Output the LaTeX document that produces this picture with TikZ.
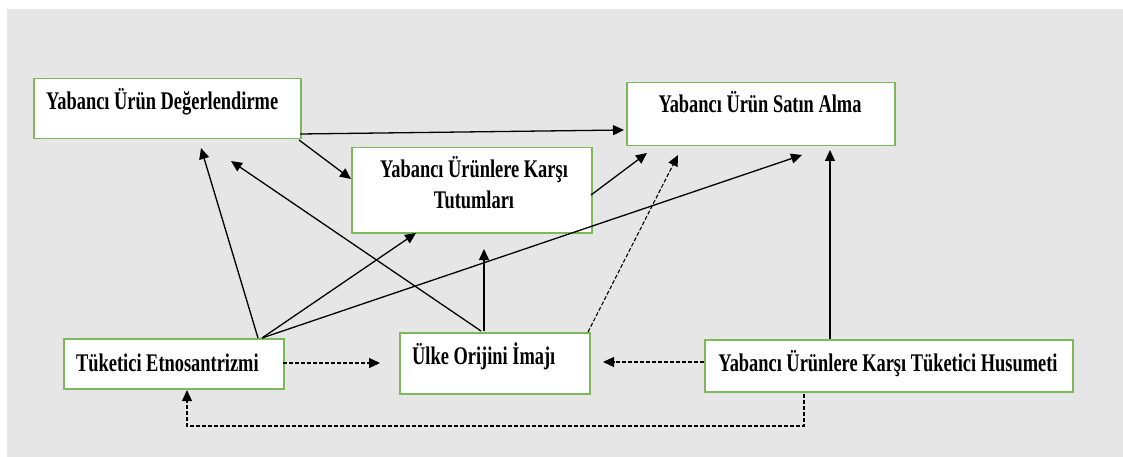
\documentclass[tikz,border=0pt]{standalone}
\usepackage{fontspec}
\setmainfont{Liberation Serif}
\usetikzlibrary{arrows.meta}
\definecolor{bggray}{HTML}{E6E6E6}
\definecolor{boxgreen}{HTML}{7DB85A}
\tikzset{
  box/.style={draw=boxgreen, line width=1.5pt, fill=white, rectangle, anchor=north west, inner sep=0pt},
  txt/.style={inner sep=0pt, font=\fontsize{18.4}{23}\selectfont\bfseries},
  arr/.style={line width=1.3pt, -{Triangle[length=11pt,width=10pt]}},
  darr/.style={line width=1.1pt, dash pattern=on 4pt off 2pt, -{Triangle[length=11pt,width=10pt]}},
}
\newcommand{\vs}[1]{\scalebox{1}[1.38]{#1}}
\begin{document}
\begin{tikzpicture}[x=1pt,y=-1pt]
\useasboundingbox (0,0) rectangle (1123,457);
\fill[white] (0,0) rectangle (1123,457);
\fill[bggray] (7,9) rectangle (1123,457);

% boxes
\node[box, minimum width=267pt, minimum height=60pt] (yud) at (33,78) {};
\node[box, minimum width=268pt, minimum height=63pt] (ysa) at (626,82) {};
\node[box, minimum width=240pt, minimum height=85pt] (tut) at (351,147) {};
\node[box, minimum width=220pt, minimum height=50pt] (te) at (63,338) {};
\node[box, minimum width=190pt, minimum height=61pt] (uoi) at (399,332) {};
\node[box, minimum width=368pt, minimum height=52pt] (hus) at (704,339) {};

% texts
\node[txt, anchor=base west] (tyud) at (46,110) {\vs{Yabancı Ürün Değerlendirme}};
\node[txt, anchor=base] (tysa) at (760,113) {\vs{Yabancı Ürün Satın Alma}};
\node[txt, anchor=base] (ttut1) at (474,178) {\vs{Yabancı Ürünlere Karşı}};
\node[txt, anchor=base] (ttut2) at (474,208) {\vs{Tutumları}};
\node[txt, anchor=base west] (tte) at (76,371) {\vs{Tüketici Etnosantrizmi}};
\node[txt, anchor=base west] (tuoi) at (412,364) {\vs{Ülke Orijini İmajı}};
\node[txt, anchor=base] (thus) at (888,371) {\vs{Yabancı Ürünlere Karşı Tüketici Husumeti}};

% start / tip coordinates
\coordinate (yudE) at (300,134);
\coordinate (yudSE) at (299,140);
\coordinate (ysaW) at (624,130);
\coordinate (tutW) at (351,179);
\coordinate (teT1) at (258,338);
\coordinate (teT2) at (262,338);
\coordinate (yudTip1) at (201,148);
\coordinate (yudTip2) at (231,161);
\coordinate (uoiT1) at (481,331);
\coordinate (uoiT2) at (484,331);
\coordinate (tutTip1) at (416,233);
\coordinate (tutTip2) at (484,249);
\coordinate (ysaTip1) at (802,155);
\coordinate (tutE) at (591,195);
\coordinate (ysaTip2) at (647,153);
\coordinate (husT) at (830,339);
\coordinate (ysaTip3) at (830,150);
\coordinate (uoiNE) at (588,332);
\coordinate (ysaTip4) at (678,155);
\coordinate (teE) at (283,363);
\coordinate (uoiTipW) at (380,363);
\coordinate (husW) at (704,362);
\coordinate (uoiTipE) at (603,362);
\coordinate (husB) at (804,394);
\coordinate (teTipB) at (187,390);

% solid arrows
\draw[arr] (yudE) -- (ysaW);
\draw[arr] (yudSE) -- (tutW);
\draw[arr] (teT1) -- (yudTip1);
\draw[arr] (uoiT1) -- (yudTip2);
\draw[arr] (teT2) -- (tutTip1);
\draw[arr] (teT2) -- (ysaTip1);
\draw[arr] (uoiT2) -- (tutTip2);
\draw[arr] (tutE) -- (ysaTip2);
\draw[arr] (husT) -- (ysaTip3);

% dashed arrows
\draw[darr] (uoiNE) -- (ysaTip4);
\draw[darr] (teE) -- (uoiTipW);
\draw[darr] (husW) -- (uoiTipE);
\draw[darr] (husB) -- (804,426) -- (187,426) -- (teTipB);
\end{tikzpicture}
\end{document}
